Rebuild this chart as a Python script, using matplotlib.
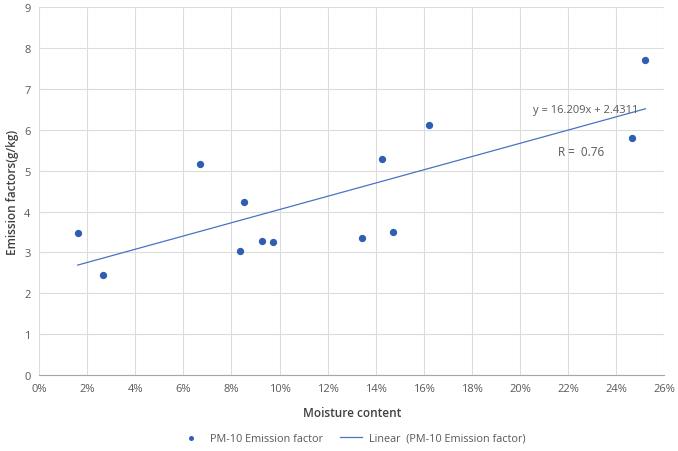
import numpy as np
import matplotlib
matplotlib.use("Agg")
import matplotlib.pyplot as plt
from matplotlib.ticker import PercentFormatter, MultipleLocator

plt.rcParams['font.family'] = ['Open Sans', 'DejaVu Sans']

# moisture content (fraction) and PM-10 emission factor (g/kg)
moisture = [0.0161, 0.0266, 0.0671, 0.0836, 0.0851, 0.0926, 0.0973,
            0.1342, 0.1425, 0.1471, 0.1620, 0.2464, 0.2521]
emission = [3.47, 2.46, 5.16, 3.04, 4.24, 3.28, 3.26,
            3.36, 5.29, 3.49, 6.13, 5.80, 7.72]

# fitted line from the chart label
slope = 16.209
intercept = 2.4311
r_value = 0.76

blue = '#2f5fb3'
grey = '#595959'

fig = plt.figure(figsize=(6.78, 4.52), dpi=100)
ax = fig.add_axes([0.0575, 0.168, 0.9225, 0.8135])

ax.scatter(moisture, emission, s=18, color=blue, zorder=3, label='PM-10 Emission factor')
xs = np.array([min(moisture), max(moisture)])
ax.plot(xs, slope * xs + intercept, color='#4a72c4', lw=0.9, zorder=2,
        label='Linear  (PM-10 Emission factor)')

ax.set_xlim(0, 0.26)
ax.set_ylim(0, 9)
ax.xaxis.set_major_locator(MultipleLocator(0.02))
ax.yaxis.set_major_locator(MultipleLocator(1))
ax.xaxis.set_major_formatter(PercentFormatter(1.0, decimals=0))

ax.grid(True, color='#dcdcdc', lw=0.8)
ax.set_axisbelow(True)
for side in ['top', 'right', 'left']:
    ax.spines[side].set_visible(False)
ax.spines['bottom'].set_color('#a6a6a6')
ax.tick_params(length=0, colors=grey, labelsize=8, pad=6)

ax.set_xlabel('Moisture content', fontsize=8.5, color='#404040', fontweight='semibold', labelpad=8)
ax.set_ylabel('Emission factors(g/kg)', fontsize=8.5, color='#404040', fontweight='semibold', labelpad=4)

ax.text(0.2052, 6.5, f'y = {slope}x + {intercept}', fontsize=8, color=grey, va='center')
ax.text(0.2158, 5.46, f'R =  {r_value}', fontsize=8.5, color=grey, va='center')

fig.legend(loc='center', bbox_to_anchor=(0.521, 0.028), ncol=2, frameon=False,
           fontsize=7.8, labelcolor=grey, markerscale=0.6, columnspacing=1.6,
           handlelength=2.0, handletextpad=0.7)

fig.savefig('out.png', dpi=100)
